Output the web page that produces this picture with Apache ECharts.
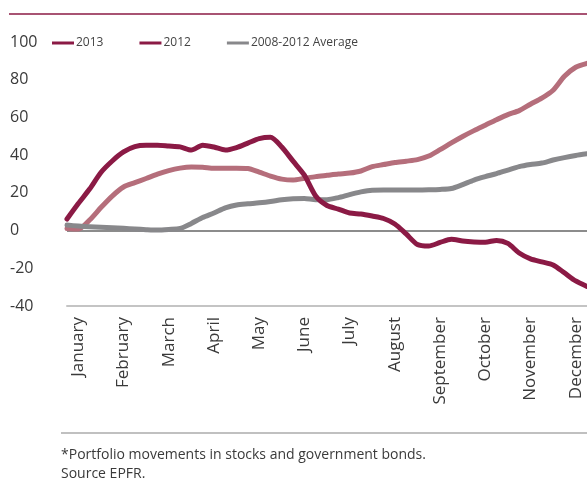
<!DOCTYPE html>
<html>
<head>
<meta charset="utf-8">
<script src="https://cdn.jsdelivr.net/npm/echarts@6/dist/echarts.min.js"></script>
<style>
  html, body { margin: 0; padding: 0; background: #fff; }
  #chart { width: 587px; height: 483px; }
</style>
</head>
<body>
<div id="chart"></div>
<script>
// Cumulative weekly portfolio flows, one point per week (first point is the last week of the prior year)
const months = ['January', 'February', 'March', 'April', 'May', 'June', 'July',
  'August', 'September', 'October', 'November', 'December'];

const flows2013 = [6.1, 14.3, 22, 30.8, 36.9, 41.7, 44.5, 45.2, 45.2, 44.8, 44.4, 42.7,
  45.3, 44.3, 42.7, 44, 46.4, 48.8, 49.5, 44.3, 36.8, 29.4, 18.3, 13.3, 11.4, 9.3,
  8.8, 7.7, 6.4, 3.5, -1.8, -7.4, -8.2, -6.3, -4.6, -5.5, -6, -6.2, -5.2, -6.8,
  -11.9, -15, -16.6, -18.2, -22.4, -26.7, -29.6];

const flows2012 = [1.1, 0.8, 5.6, 12.2, 18.3, 23.1, 25.4, 27.6, 29.9, 31.8, 33.1, 33.7,
  33.6, 33, 33.1, 33.1, 32.9, 31, 28.9, 27.3, 26.8, 27.7, 28.6, 29.3, 30, 30.5,
  31.6, 33.9, 35, 36.1, 36.8, 37.6, 39.5, 42.9, 46.5, 49.9, 53, 55.9, 58.8, 61.5,
  63.6, 67, 70.2, 74.4, 81.8, 86.6, 88.7];

const avg2008to2012 = [2.9, 2.4, 2, 1.7, 1.5, 1.2, 0.8, 0.5, 0.3, 0.6, 1.1, 3.8,
  6.9, 9.3, 12, 13.6, 14.2, 14.7, 15.4, 16.4, 16.9, 17, 16.4, 16.4, 17.5, 19.1,
  20.5, 21.4, 21.5, 21.5, 21.5, 21.5, 21.6, 21.8, 22.3, 24.4, 26.8, 28.6, 30.2, 32.1,
  33.9, 35, 35.8, 37.4, 38.7, 39.8, 40.7];

const yTicks = { min: -40, max: 100, step: 20 };

const weeks = flows2013.map((_, i) => i);

const DARK = '#8b1a45';
const PINK = '#b56e7b';
const GREY = '#88888b';
const FONT = '"Open Sans", "DejaVu Sans", sans-serif';

const isMonthStart = (i) => i >= 1 && (i - 1) % 4 === 0;

const chart = echarts.init(document.getElementById('chart'), null, { renderer: 'canvas' });

const lineSeries = (name, data, color, z) => ({
  name: name,
  type: 'line',
  data: data,
  smooth: 0.25,
  symbol: 'none',
  z: z,
  lineStyle: { color: color, width: 5, cap: 'round', join: 'round' },
  itemStyle: { color: color }
});

const avgSeries = lineSeries('2008-2012 Average', avg2008to2012, GREY, 3);
avgSeries.markLine = {
  silent: true,
  symbol: 'none',
  label: { show: false },
  lineStyle: { color: '#8c8c8c', width: 2, type: 'solid' },
  data: [{ yAxis: 0 }],
  z: 1
};

chart.setOption({
  animation: false,
  backgroundColor: '#ffffff',
  textStyle: { fontFamily: FONT },
  grid: { left: 67, right: 0, top: 42, bottom: 177, containLabel: false },
  legend: {
    left: 52,
    top: 37,
    padding: 0,
    itemWidth: 22,
    itemHeight: 3,
    itemGap: 36,
    icon: 'rect',
    textStyle: { fontFamily: FONT, fontSize: 12, color: '#444', padding: [0, 0, 0, -3] },
    data: [
      { name: '2013', itemStyle: { color: DARK } },
      { name: '2012', itemStyle: { color: DARK } },
      { name: '2008-2012 Average', itemStyle: { color: GREY } }
    ]
  },
  xAxis: {
    type: 'category',
    data: weeks,
    boundaryGap: false,
    axisLine: { onZero: false, lineStyle: { color: '#c4c4c4', width: 2 } },
    axisTick: { show: false },
    splitLine: { show: false },
    axisLabel: {
      rotate: 90,
      margin: 11,
      fontFamily: FONT,
      fontSize: 17,
      color: '#3a3a3a',
      interval: (index) => isMonthStart(index),
      formatter: (value, index) => months[(index - 1) / 4]
    }
  },
  yAxis: {
    type: 'value',
    min: yTicks.min,
    max: yTicks.max,
    interval: yTicks.step,
    axisLine: { show: false },
    axisTick: { show: false },
    splitLine: { show: false },
    axisLabel: {
      align: 'left',
      margin: 57,
      fontFamily: FONT,
      fontSize: 16,
      color: '#3a3a3a'
    }
  },
  graphic: [
    {
      type: 'line',
      shape: { x1: 9, y1: 14, x2: 587, y2: 14 },
      style: { stroke: DARK, lineWidth: 1.5 }
    },
    {
      type: 'line',
      shape: { x1: 61, y1: 433, x2: 587, y2: 433 },
      style: { stroke: '#c0c0c0', lineWidth: 2 }
    },
    {
      type: 'text',
      left: 61,
      top: 446,
      style: {
        text: '*Portfolio movements in stocks and government bonds.\nSource EPFR.',
        font: '14px ' + FONT,
        fill: '#3a3a3a',
        lineHeight: 19
      }
    }
  ],
  series: [
    lineSeries('2012', flows2012, PINK, 2),
    avgSeries,
    lineSeries('2013', flows2013, DARK, 4)
  ]
});
</script>
</body>
</html>
